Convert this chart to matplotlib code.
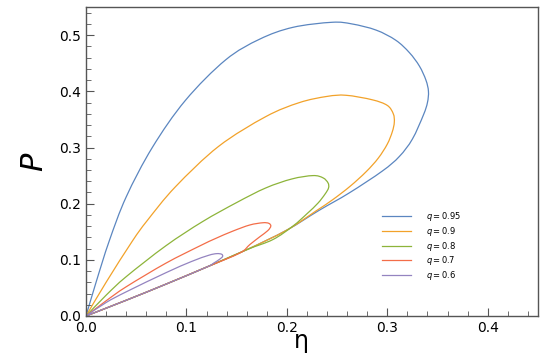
import numpy as np
import matplotlib
matplotlib.use("Agg")
import matplotlib.pyplot as plt
from matplotlib.path import Path
from matplotlib.patches import PathPatch
from matplotlib.lines import Line2D
from matplotlib.ticker import MultipleLocator

# closed P-eta loops (origin -> upper branch -> tip -> lower branch -> origin)
eta_095 = [0, 0.010, 0.023, 0.040, 0.066, 0.099, 0.139, 0.173, 0.206, 0.245, 0.265, 0.289, 0.3085,
           0.322, 0.332, 0.3385, 0.341, 0.340, 0.336, 0.325, 0.312, 0.295, 0.262, 0.232, 0.200,
           0.160, 0.120, 0.080, 0.040, 0]
p_095 = [0, 0.060, 0.133, 0.212, 0.300, 0.384, 0.456, 0.493, 0.514, 0.523, 0.520, 0.509, 0.491,
         0.469, 0.445, 0.420, 0.400, 0.380, 0.358, 0.315, 0.284, 0.258, 0.219, 0.188, 0.153,
         0.118, 0.087, 0.057, 0.028, 0]

eta_09 = [0, 0.020, 0.046, 0.061, 0.089, 0.132, 0.179, 0.2125, 0.240, 0.259, 0.285, 0.300,
          0.306, 0.307, 0.305, 0.300, 0.291, 0.279, 0.263, 0.2456, 0.229, 0.200, 0.160, 0.120,
          0.080, 0.040, 0]
p_09 = [0, 0.060, 0.133, 0.170, 0.230, 0.302, 0.355, 0.380, 0.391, 0.393, 0.385, 0.375,
        0.360, 0.345, 0.328, 0.306, 0.281, 0.257, 0.231, 0.207, 0.187, 0.153, 0.118, 0.087,
        0.057, 0.028, 0]

eta_08 = [0, 0.020, 0.040, 0.0795, 0.116, 0.150, 0.179, 0.205, 0.226, 0.236, 0.241, 0.2415,
          0.238, 0.231, 0.220, 0.206, 0.186, 0.160, 0.120, 0.080, 0.040, 0]
p_08 = [0, 0.037, 0.070, 0.125, 0.168, 0.202, 0.228, 0.244, 0.250, 0.246, 0.237, 0.228,
        0.217, 0.201, 0.182, 0.160, 0.136, 0.118, 0.087, 0.057, 0.028, 0]

eta_07 = [0, 0.020, 0.040, 0.0795, 0.113, 0.129, 0.146, 0.163, 0.176, 0.182, 0.184, 0.181,
          0.173, 0.163, 0.153, 0.120, 0.080, 0.040, 0]
p_07 = [0, 0.027, 0.052, 0.094, 0.1245, 0.138, 0.151, 0.162, 0.166, 0.165, 0.160, 0.152,
        0.141, 0.127, 0.112, 0.087, 0.057, 0.028, 0]

eta_06 = [0, 0.020, 0.040, 0.0795, 0.105, 0.122, 0.130, 0.135, 0.136, 0.133, 0.127, 0.120,
          0.080, 0.040, 0]
p_06 = [0, 0.024, 0.043, 0.077, 0.097, 0.108, 0.111, 0.110, 0.106, 0.101, 0.094, 0.087,
        0.057, 0.028, 0]

labels = ["0.95", "0.9", "0.8", "0.7", "0.6"]
colors = ["#5b86c0", "#f2a22a", "#8db43a", "#f36d48", "#9484c0"]


def smooth_path(x, y):
    # cubic Bezier path through the read points (Catmull-Rom tangents), drawn by matplotlib
    pts = np.column_stack([x, y]).astype(float)
    ext = np.vstack([pts[0], pts, pts[-1]])
    verts, codes = [pts[0]], [Path.MOVETO]
    for i in range(len(pts) - 1):
        p0, p1, p2, p3 = ext[i], ext[i + 1], ext[i + 2], ext[i + 3]
        verts += [p1 + (p2 - p0) / 6, p2 - (p3 - p1) / 6, p2]
        codes += [Path.CURVE4] * 3
    return Path(verts, codes)


plt.rcParams["mathtext.fontset"] = "dejavusans"
fig = plt.figure(figsize=(5.5, 3.56), dpi=100)
ax = fig.add_axes([0.1564, 0.1124, 0.8216, 0.8676])

handles = []
for (x, y), lab, c in zip([(eta_095, p_095), (eta_09, p_09), (eta_08, p_08),
                           (eta_07, p_07), (eta_06, p_06)], labels, colors):
    ax.add_patch(PathPatch(smooth_path(x, y), fill=False, edgecolor=c, lw=0.9))
    handles.append(Line2D([], [], color=c, lw=0.9, label=rf"$q={lab}$"))

ax.set_xlim(0, 0.45)
ax.set_ylim(0, 0.55)
ax.xaxis.set_major_locator(MultipleLocator(0.1))
ax.xaxis.set_minor_locator(MultipleLocator(0.02))
ax.yaxis.set_major_locator(MultipleLocator(0.1))
ax.yaxis.set_minor_locator(MultipleLocator(0.02))
ax.tick_params(which="both", direction="in", top=False, right=False, colors="#555555",
               labelcolor="black", labelsize=10)
ax.tick_params(which="major", length=6, width=0.8)
ax.tick_params(which="minor", length=3.5, width=0.6)
for s in ax.spines.values():
    s.set_color("#555555")
    s.set_linewidth(1.0)

ax.set_xlabel(r"$\mathregular{\eta}$", fontsize=17)
ax.xaxis.set_label_coords(0.475, -0.05)
ax.set_ylabel(r"$P$", fontsize=22, labelpad=7)

ax.legend(handles=handles, loc="upper left", bbox_to_anchor=(0.655, 0.342), frameon=False,
          fontsize=6, handlelength=3.5, handletextpad=1.8, labelspacing=0.2,
          borderpad=0, borderaxespad=0)

fig.savefig("out.png", dpi=100)
